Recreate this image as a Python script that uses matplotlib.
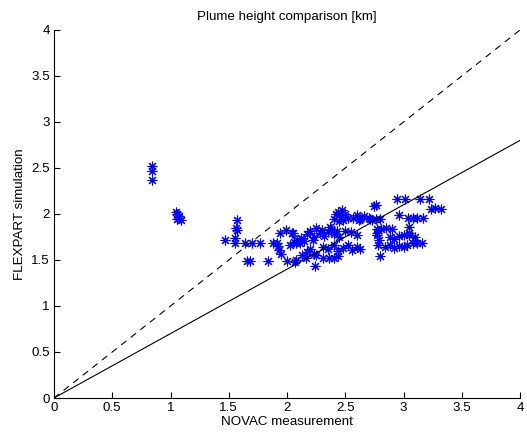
import matplotlib
matplotlib.use("Agg")
import matplotlib.pyplot as plt
import numpy as np

plt.rcParams['font.family'] = ['Liberation Sans', 'DejaVu Sans']

novac = [0.84, 0.84, 0.84, 1.05, 1.06, 1.07, 1.07, 1.09, 1.06,
         1.47, 1.55, 1.55, 1.57, 1.57, 1.56, 1.64, 1.70, 1.77, 1.68, 1.66, 1.84, 1.88, 1.91, 1.94, 1.99, 2.04,
         1.93, 1.95, 1.92, 2.00, 2.07, 2.03, 2.06, 2.09, 2.11, 2.05, 2.08,
         2.40, 2.42, 2.44, 2.46, 2.48, 2.50, 2.52, 2.45, 2.47,
         2.57, 2.60, 2.63, 2.66, 2.70, 2.73, 2.62, 2.76,
         2.17, 2.20, 2.23, 2.25, 2.28, 2.30, 2.32, 2.35, 2.38, 2.40, 2.43, 2.45, 2.22, 2.37, 2.12, 2.15,
         2.31, 2.35, 2.40, 2.44, 2.48, 2.52, 2.56, 2.60, 2.63,
         2.17, 2.20, 2.23, 2.25,
         2.08, 2.31, 2.36, 2.40, 2.44, 2.24, 2.13, 2.16,
         2.77, 2.79, 2.55, 2.60, 2.50, 2.78,
         2.75, 2.94, 3.01, 3.14, 3.22, 3.24, 3.27, 3.32, 2.96, 3.04, 3.08, 3.12, 3.17, 2.71, 2.76, 2.80,
         2.77, 2.81, 2.85, 2.90, 2.77, 3.05, 3.05, 2.88, 2.92, 2.96, 3.00, 3.05, 3.10,
         2.84, 2.88, 2.92, 2.96, 3.00, 3.03, 3.08, 3.12, 3.16, 2.80]
flexpart = [2.52, 2.47, 2.37, 2.02, 2.00, 1.98, 1.96, 1.93, 1.95,
            1.72, 1.74, 1.69, 1.94, 1.83, 1.85, 1.69, 1.69, 1.69, 1.49, 1.49, 1.49, 1.69, 1.69, 1.79, 1.83, 1.79,
            1.61, 1.57, 1.65, 1.49, 1.48, 1.66, 1.70, 1.72, 1.68, 1.79, 1.68,
            1.95, 2.00, 2.02, 1.97, 1.93, 2.00, 1.96, 1.92, 2.04,
            1.96, 1.99, 1.95, 1.98, 1.96, 1.94, 1.93, 2.10,
            1.78, 1.82, 1.75, 1.85, 1.79, 1.83, 1.76, 1.80, 1.84, 1.78, 1.81, 1.75, 1.72, 1.86, 1.74, 1.71,
            1.64, 1.62, 1.66, 1.60, 1.63, 1.66, 1.61, 1.64, 1.62,
            1.59, 1.62, 1.57, 1.55,
            1.50, 1.52, 1.52, 1.52, 1.54, 1.43, 1.55, 1.52,
            1.79, 1.72, 1.80, 1.77, 1.82, 1.66,
            2.09, 2.16, 2.16, 2.16, 2.16, 2.05, 2.07, 2.05, 1.99, 1.96, 1.96, 1.96, 1.96, 1.95, 1.95, 1.95,
            1.84, 1.84, 1.85, 1.84, 1.77, 1.86, 1.79, 1.75, 1.73, 1.76, 1.77, 1.77, 1.75,
            1.64, 1.66, 1.63, 1.65, 1.64, 1.66, 1.69, 1.68, 1.69, 1.54]

line_x = [0, 4]
one_to_one = [0, 4]
fit_slope = 0.7
ticks = [0, 0.5, 1, 1.5, 2, 2.5, 3, 3.5, 4]
tick_labels = ['0', '0.5', '1', '1.5', '2', '2.5', '3', '3.5', '4']

fig = plt.figure(figsize=(5.27, 4.36), dpi=100)
ax = fig.add_axes([54/527, 38/436, 466/527, 368/436])

ax.plot(novac, flexpart, linestyle='none', marker=(8, 2, 0), markersize=7,
        markeredgecolor=(0, 0, 1), markerfacecolor='none', markeredgewidth=0.8)
ax.plot(line_x, one_to_one, color='black', linestyle=(0, (6, 5)), linewidth=0.8)
ax.plot(line_x, [v * fit_slope for v in line_x], color='black', linewidth=0.8)

ax.set_xlim(0, 4)
ax.set_ylim(0, 4)
ax.set_xticks(ticks)
ax.set_xticklabels(tick_labels)
ax.set_yticks(ticks)
ax.set_yticklabels(tick_labels)
ax.spines['top'].set_visible(False)
ax.spines['right'].set_visible(False)
for s in ['left', 'bottom']:
    ax.spines[s].set_linewidth(0.8)
ax.tick_params(direction='in', length=4, width=0.8, labelsize=9.6, pad=3)
ax.set_xlabel('NOVAC measurement', fontsize=9.6, labelpad=1)
ax.set_ylabel('FLEXPART simulation', fontsize=9.6, labelpad=4)
ax.set_title('Plume height comparison [km]', fontsize=9.6, pad=7)

fig.savefig('out.png', dpi=100)
